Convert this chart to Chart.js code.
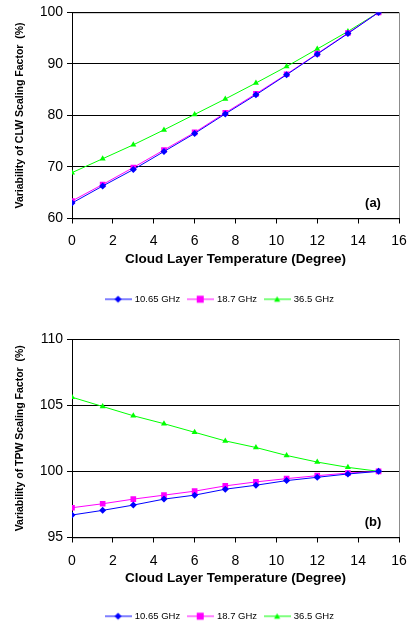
<!DOCTYPE html>
<html>
<head>
<meta charset="utf-8">
<script src="https://cdn.jsdelivr.net/npm/chart.js@4"></script>
<style>
  html, body { margin: 0; padding: 0; background: #fff; overflow: hidden; }
  .wrap { position: absolute; left: 0; width: 412px; }
  #boxA { top: 0; height: 314px; }
  #boxB { top: 314px; height: 317px; }
</style>
</head>
<body>
<div class="wrap" id="boxA"><canvas id="chartA"></canvas></div>
<div class="wrap" id="boxB"><canvas id="chartB"></canvas></div>
<script>
// --- Data ---
const temps = [0, 1.5, 3, 4.5, 6, 7.5, 9, 10.5, 12, 13.5, 15];
const seriesNames = ['10.65 GHz', '18.7 GHz', '36.5 GHz'];

// (a) CLW scaling factor
const clw1065 = [63.0, 66.3, 69.5, 73.0, 76.5, 80.3, 84.0, 87.9, 91.9, 95.9, 100];
const clw187 = [63.4, 66.6, 69.9, 73.3, 76.7, 80.5, 84.2, 88.0, 92.0, 96.0, 100];
const clw365 = [68.9, 71.6, 74.3, 77.2, 80.2, 83.2, 86.3, 89.5, 92.9, 96.3, 100];

// (b) TPW scaling factor
const tpw1065 = [96.7, 97.05, 97.45, 97.9, 98.2, 98.65, 98.95, 99.3, 99.55, 99.8, 100];
const tpw187 = [97.25, 97.55, 97.9, 98.2, 98.5, 98.9, 99.2, 99.45, 99.67, 99.87, 100];
const tpw365 = [105.6, 104.9, 104.2, 103.6, 102.95, 102.3, 101.8, 101.2, 100.7, 100.3, 100];

const xTicks = [0, 2, 4, 6, 8, 10, 12, 14, 16];

const colors = ['#0000ff', '#ff00ff', '#00ff00'];
const markers = ['rectRot', 'rect', 'triangle'];
const markerSize = [3.5, 4, 3.5];

const FONT = '"Liberation Sans", Arial, sans-serif';

// legend icon: short line with marker in the middle
function legendIcon(i) {
    const c = document.createElement('canvas');
    c.width = 27; c.height = 10;
    const g = c.getContext('2d');
    g.strokeStyle = colors[i];
    g.fillStyle = colors[i];
    g.lineWidth = 1;
    g.beginPath(); g.moveTo(0, 5); g.lineTo(27, 5); g.stroke();
    g.beginPath();
    if (i === 0) { g.moveTo(13.5, 1.5); g.lineTo(17, 5); g.lineTo(13.5, 8.5); g.lineTo(10, 5); }
    else if (i === 1) { g.rect(10, 1.5, 7, 7); }
    else { g.moveTo(13.5, 2); g.lineTo(16.5, 7.5); g.lineTo(10.5, 7.5); }
    g.closePath(); g.fill();
    return c;
}
const icons = [0, 1, 2].map(legendIcon);

// gray frame behind the grid, y title and panel tag
const framePlugin = {
    id: 'frame',
    beforeDraw(chart) {
        const a = chart.chartArea, ctx = chart.ctx;
        ctx.save();
        ctx.strokeStyle = '#8c8c8c';
        ctx.lineWidth = 1;
        ctx.strokeRect(a.left + 0.5, a.top + 0.5, a.right - a.left, a.bottom - a.top);
        ctx.restore();
    },
    afterDraw(chart, args, opts) {
        const a = chart.chartArea, ctx = chart.ctx;
        ctx.save();
        ctx.fillStyle = '#000';
        ctx.textAlign = 'center';
        ctx.textBaseline = 'middle';
        ctx.font = 'bold 13px ' + FONT;
        ctx.fillText(opts.tag, a.right - 26, a.bottom - 15);
        // y axis title
        ctx.translate(20, (a.top + a.bottom) / 2);
        ctx.rotate(-Math.PI / 2);
        ctx.font = 'bold 10.5px ' + FONT;
        ctx.fillText(opts.yTitle, 0, 0);
        ctx.restore();
    }
};

function makeChart(id, values, yMin, yMax, yStep, yTitle, tag, lay) {
    const datasets = values.map((v, i) => ({
        label: seriesNames[i],
        data: temps.map((t, k) => ({ x: t, y: v[k] })),
        borderColor: colors[i],
        backgroundColor: colors[i],
        borderWidth: 1,
        pointStyle: markers[i],
        pointRadius: markerSize[i],
        pointBorderWidth: 0,
        tension: 0
    }));

    return new Chart(document.getElementById(id), {
        type: 'line',
        data: { datasets },
        plugins: [framePlugin],
        options: {
            responsive: true,
            maintainAspectRatio: false,
            animation: false,
            layout: { padding: { top: lay.top, right: 13, left: 41, bottom: lay.bottom } },
            plugins: {
                tooltip: { enabled: false },
                frame: { tag, yTitle },
                legend: {
                    position: 'bottom',
                    labels: {
                        usePointStyle: true,
                        pointStyleWidth: 24,
                        boxHeight: 9,
                        padding: 8,
                        color: '#000',
                        font: { family: FONT, size: 9.5 },
                        generateLabels: () => seriesNames.map((n, i) => ({
                            text: n, pointStyle: icons[i], fillStyle: colors[i],
                            strokeStyle: colors[i], lineWidth: 0, datasetIndex: i
                        }))
                    }
                }
            },
            scales: {
                x: {
                    type: 'linear',
                    min: 0, max: 16,
                    afterBuildTicks: s => { s.ticks = xTicks.map(v => ({ value: v })); },
                    afterFit: s => { s.height = lay.xHeight; s.paddingLeft = 0; s.paddingRight = 0; },
                    border: { color: '#000', width: 1 },
                    grid: { drawOnChartArea: false, drawTicks: true, tickLength: 5, color: '#000' },
                    ticks: { color: '#000', padding: lay.tickPad, font: { family: FONT, size: 14 } },
                    title: {
                        display: true, text: 'Cloud Layer Temperature (Degree)', color: '#000',
                        font: { family: FONT, size: 13.5, weight: 'bold' },
                        padding: { top: 0, bottom: lay.titlePad }
                    }
                },
                y: {
                    min: yMin, max: yMax,
                    ticks: { stepSize: yStep, color: '#000', padding: 4, font: { family: FONT, size: 14 } },
                    afterFit: s => { s.width = 31; },
                    border: { color: '#000', width: 1 },
                    grid: { color: '#000', lineWidth: 1, tickLength: 5 }
                }
            }
        }
    });
}

makeChart('chartA', [clw1065, clw187, clw365], 60, 100, 10,
    'Variability of CLW Scaling Factor  (%)', '(a)',
    { top: 11, bottom: 0, xHeight: 68, tickPad: 9, titlePad: 19 });
makeChart('chartB', [tpw1065, tpw187, tpw365], 95, 110, 5,
    'Variability of TPW Scaling Factor  (%)', '(b)',
    { top: 25, bottom: 0, xHeight: 66, tickPad: 10, titlePad: 17 });
</script>
</body>
</html>
